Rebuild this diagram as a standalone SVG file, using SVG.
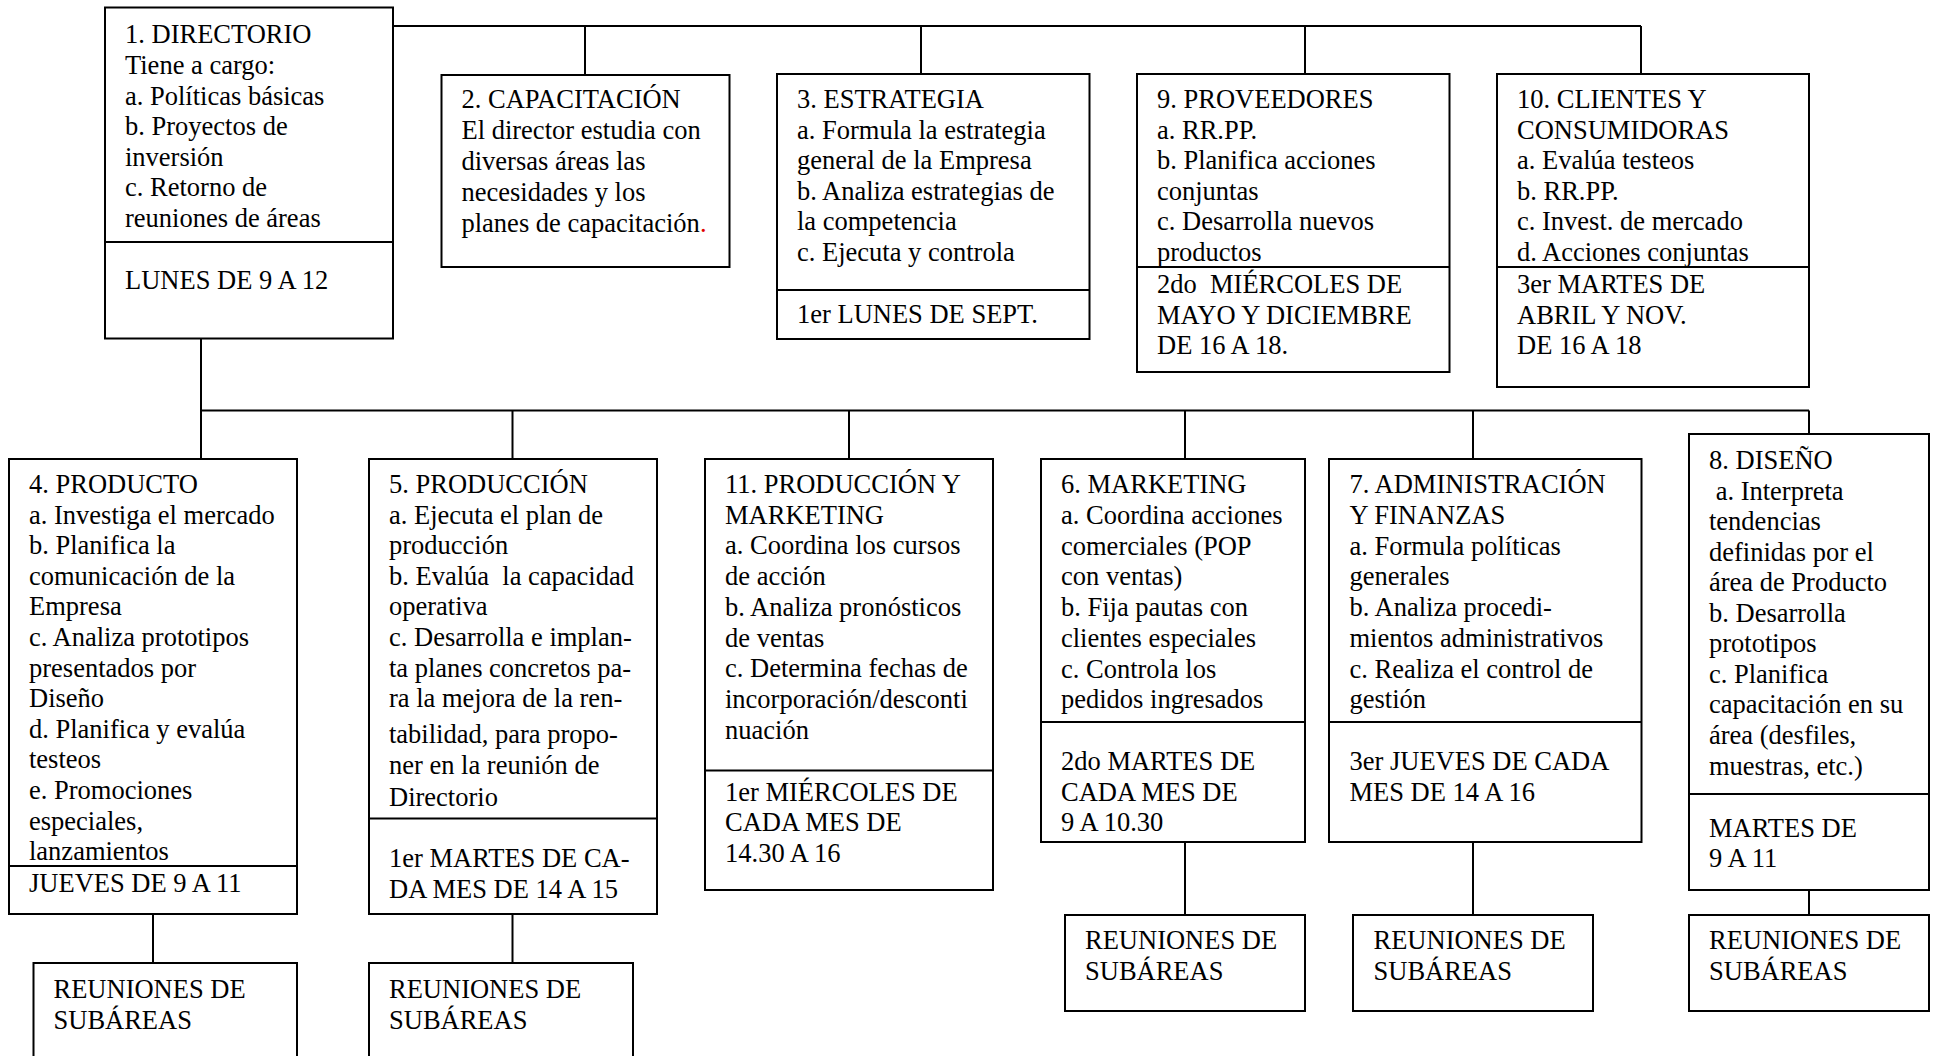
<svg xmlns="http://www.w3.org/2000/svg" width="1939" height="1056" viewBox="0 0 1939 1056">
<style>
  rect.box { fill: #fff; stroke: #000; stroke-width: 2; }
  line.div, #connectors path { stroke: #000; stroke-width: 2; fill: none; }
  text { font-family: "Liberation Serif", "Times New Roman", serif; font-size: 26.5px; fill: #000; white-space: pre; }
</style>
<rect x="0" y="0" width="1939" height="1056" fill="#fff"/>
<g id="connectors">
  <path d="M393,26 H1641"/>
  <path d="M585,26 V75"/>
  <path d="M921,26 V74"/>
  <path d="M1305,26 V74"/>
  <path d="M1641,26 V74"/>
  <path d="M201,338 V459"/>
  <path d="M201,410.5 H1809"/>
  <path d="M512.5,410.5 V459"/>
  <path d="M849,410.5 V459"/>
  <path d="M1185,410.5 V459"/>
  <path d="M1473,410.5 V459"/>
  <path d="M1809,410.5 V434"/>
  <path d="M153,914 V963"/>
  <path d="M512.5,914 V963"/>
  <path d="M1185,842 V915"/>
  <path d="M1473,842 V915"/>
  <path d="M1809,890 V915"/>
</g>
<g id="n1-directorio">
  <rect class="box" x="105" y="7.5" width="288" height="331"/>
  <line class="div" x1="105" y1="242" x2="393" y2="242"/>
  <text x="125">
    <tspan x="125" y="43.3">1. DIRECTORIO</tspan>
    <tspan x="125" y="73.9">Tiene a cargo:</tspan>
    <tspan x="125" y="104.5">a. Políticas básicas</tspan>
    <tspan x="125" y="135.1">b. Proyectos de</tspan>
    <tspan x="125" y="165.7">inversión</tspan>
    <tspan x="125" y="196.3">c. Retorno de</tspan>
    <tspan x="125" y="226.9">reuniones de áreas</tspan>
  </text>
  <text x="125" y="289.3">LUNES DE 9 A 12</text>
</g>
<g id="n2-capacitacion">
  <rect class="box" x="441.5" y="75" width="288" height="192"/>
  <text x="461.5">
    <tspan x="461.5" y="108.3">2. CAPACITACIÓN</tspan>
    <tspan x="461.5" y="139.1">El director estudia con</tspan>
    <tspan x="461.5" y="169.9">diversas áreas las</tspan>
    <tspan x="461.5" y="200.7">necesidades y los</tspan>
    <tspan x="461.5" y="231.5">planes de capacitación<tspan fill="#e00000">.</tspan></tspan>
  </text>
</g>
<g id="n3-estrategia">
  <rect class="box" x="777" y="74" width="312.5" height="265"/>
  <line class="div" x1="777" y1="290" x2="1089.5" y2="290"/>
  <text x="797">
    <tspan x="797" y="108.3">3. ESTRATEGIA</tspan>
    <tspan x="797" y="138.8">a. Formula la estrategia</tspan>
    <tspan x="797" y="169.3">general de la Empresa</tspan>
    <tspan x="797" y="199.8">b. Analiza estrategias de</tspan>
    <tspan x="797" y="230.3">la competencia</tspan>
    <tspan x="797" y="260.8">c. Ejecuta y controla</tspan>
  </text>
  <text x="797" y="323.3">1er LUNES DE SEPT.</text>
</g>
<g id="n9-proveedores">
  <rect class="box" x="1137" y="74" width="312.5" height="298"/>
  <line class="div" x1="1137" y1="267" x2="1449.5" y2="267"/>
  <text x="1157">
    <tspan x="1157" y="108.3">9. PROVEEDORES</tspan>
    <tspan x="1157" y="138.8">a. RR.PP.</tspan>
    <tspan x="1157" y="169.3">b. Planifica acciones</tspan>
    <tspan x="1157" y="199.8">conjuntas</tspan>
    <tspan x="1157" y="230.3">c. Desarrolla nuevos</tspan>
    <tspan x="1157" y="260.8">productos</tspan>
  </text>
  <text x="1157">
    <tspan x="1157" y="293.3">2do  MIÉRCOLES DE</tspan>
    <tspan x="1157" y="323.6">MAYO Y DICIEMBRE</tspan>
    <tspan x="1157" y="354">DE 16 A 18.</tspan>
  </text>
</g>
<g id="n10-clientes">
  <rect class="box" x="1497" y="74" width="312" height="313"/>
  <line class="div" x1="1497" y1="267" x2="1809" y2="267"/>
  <text x="1517">
    <tspan x="1517" y="108.3">10. CLIENTES Y</tspan>
    <tspan x="1517" y="138.8">CONSUMIDORAS</tspan>
    <tspan x="1517" y="169.3">a. Evalúa testeos</tspan>
    <tspan x="1517" y="199.8">b. RR.PP.</tspan>
    <tspan x="1517" y="230.3">c. Invest. de mercado</tspan>
    <tspan x="1517" y="260.8">d. Acciones conjuntas</tspan>
  </text>
  <text x="1517">
    <tspan x="1517" y="293.3">3er MARTES DE</tspan>
    <tspan x="1517" y="323.6">ABRIL Y NOV.</tspan>
    <tspan x="1517" y="354">DE 16 A 18</tspan>
  </text>
</g>
<g id="n4-producto">
  <rect class="box" x="9" y="459" width="288" height="455"/>
  <line class="div" x1="9" y1="866" x2="297" y2="866"/>
  <text x="29">
    <tspan x="29" y="492.9">4. PRODUCTO</tspan>
    <tspan x="29" y="523.5">a. Investiga el mercado</tspan>
    <tspan x="29" y="554.1">b. Planifica la</tspan>
    <tspan x="29" y="584.7">comunicación de la</tspan>
    <tspan x="29" y="615.3">Empresa</tspan>
    <tspan x="29" y="645.9">c. Analiza prototipos</tspan>
    <tspan x="29" y="676.5">presentados por</tspan>
    <tspan x="29" y="707.1">Diseño</tspan>
    <tspan x="29" y="737.7">d. Planifica y evalúa</tspan>
    <tspan x="29" y="768.3">testeos</tspan>
    <tspan x="29" y="798.9">e. Promociones</tspan>
    <tspan x="29" y="829.5">especiales,</tspan>
    <tspan x="29" y="860.1">lanzamientos</tspan>
  </text>
  <text x="29" y="891.6">JUEVES DE 9 A 11</text>
</g>
<g id="n4-subareas">
  <rect class="box" x="33.5" y="963" width="263.5" height="130"/>
  <text x="53.5">
    <tspan x="53.5" y="997.5">REUNIONES DE</tspan>
    <tspan x="53.5" y="1028.5">SUBÁREAS</tspan>
  </text>
</g>
<g id="n5-produccion">
  <rect class="box" x="369" y="459" width="288" height="455"/>
  <line class="div" x1="369" y1="818.5" x2="657" y2="818.5"/>
  <text x="389">
    <tspan x="389" y="492.9">5. PRODUCCIÓN</tspan>
    <tspan x="389" y="523.5">a. Ejecuta el plan de</tspan>
    <tspan x="389" y="554.1">producción</tspan>
    <tspan x="389" y="584.7">b. Evalúa  la capacidad</tspan>
    <tspan x="389" y="615.3">operativa</tspan>
    <tspan x="389" y="645.9">c. Desarrolla e implan-</tspan>
    <tspan x="389" y="676.5">ta planes concretos pa-</tspan>
    <tspan x="389" y="707.1">ra la mejora de la ren-</tspan>
    <tspan x="389" y="743">tabilidad, para propo-</tspan>
    <tspan x="389" y="774.4">ner en la reunión de</tspan>
    <tspan x="389" y="805.9">Directorio</tspan>
  </text>
  <text x="389">
    <tspan x="389" y="866.5">1er MARTES DE CA-</tspan>
    <tspan x="389" y="897.9">DA MES DE 14 A 15</tspan>
  </text>
</g>
<g id="n5-subareas">
  <rect class="box" x="369" y="963" width="264" height="130"/>
  <text x="389">
    <tspan x="389" y="997.5">REUNIONES DE</tspan>
    <tspan x="389" y="1028.5">SUBÁREAS</tspan>
  </text>
</g>
<g id="n11-produccion-marketing">
  <rect class="box" x="705" y="459" width="288" height="431"/>
  <line class="div" x1="705" y1="770.5" x2="993" y2="770.5"/>
  <text x="725">
    <tspan x="725" y="492.9">11. PRODUCCIÓN Y</tspan>
    <tspan x="725" y="523.6">MARKETING</tspan>
    <tspan x="725" y="554.4">a. Coordina los cursos</tspan>
    <tspan x="725" y="585.1">de acción</tspan>
    <tspan x="725" y="615.9">b. Analiza pronósticos</tspan>
    <tspan x="725" y="646.6">de ventas</tspan>
    <tspan x="725" y="677.4">c. Determina fechas de</tspan>
    <tspan x="725" y="708.1">incorporación/desconti</tspan>
    <tspan x="725" y="738.9">nuación</tspan>
  </text>
  <text x="725">
    <tspan x="725" y="800.8">1er MIÉRCOLES DE</tspan>
    <tspan x="725" y="831.3">CADA MES DE</tspan>
    <tspan x="725" y="862.3">14.30 A 16</tspan>
  </text>
</g>
<g id="n6-marketing">
  <rect class="box" x="1041" y="459" width="264" height="383"/>
  <line class="div" x1="1041" y1="722" x2="1305" y2="722"/>
  <text x="1061">
    <tspan x="1061" y="492.9">6. MARKETING</tspan>
    <tspan x="1061" y="523.7">a. Coordina acciones</tspan>
    <tspan x="1061" y="554.5">comerciales (POP</tspan>
    <tspan x="1061" y="585.3">con ventas)</tspan>
    <tspan x="1061" y="616.1">b. Fija pautas con</tspan>
    <tspan x="1061" y="646.9">clientes especiales</tspan>
    <tspan x="1061" y="677.7">c. Controla los</tspan>
    <tspan x="1061" y="708.4">pedidos ingresados</tspan>
  </text>
  <text x="1061">
    <tspan x="1061" y="770.3">2do MARTES DE</tspan>
    <tspan x="1061" y="800.8">CADA MES DE</tspan>
    <tspan x="1061" y="831.2">9 A 10.30</tspan>
  </text>
</g>
<g id="n6-subareas">
  <rect class="box" x="1065" y="915" width="240" height="96"/>
  <text x="1085">
    <tspan x="1085" y="949">REUNIONES DE</tspan>
    <tspan x="1085" y="979.5">SUBÁREAS</tspan>
  </text>
</g>
<g id="n7-administracion">
  <rect class="box" x="1329" y="459" width="312.5" height="383"/>
  <line class="div" x1="1329" y1="722" x2="1641.5" y2="722"/>
  <text x="1349.5">
    <tspan x="1349.5" y="492.9">7. ADMINISTRACIÓN</tspan>
    <tspan x="1349.5" y="523.7">Y FINANZAS</tspan>
    <tspan x="1349.5" y="554.5">a. Formula políticas</tspan>
    <tspan x="1349.5" y="585.3">generales</tspan>
    <tspan x="1349.5" y="616.1">b. Analiza procedi-</tspan>
    <tspan x="1349.5" y="646.9">mientos administrativos</tspan>
    <tspan x="1349.5" y="677.7">c. Realiza el control de</tspan>
    <tspan x="1349.5" y="708.4">gestión</tspan>
  </text>
  <text x="1349.5">
    <tspan x="1349.5" y="770.3">3er JUEVES DE CADA</tspan>
    <tspan x="1349.5" y="800.8">MES DE 14 A 16</tspan>
  </text>
</g>
<g id="n7-subareas">
  <rect class="box" x="1353" y="915" width="240" height="96"/>
  <text x="1373.5">
    <tspan x="1373.5" y="949">REUNIONES DE</tspan>
    <tspan x="1373.5" y="979.5">SUBÁREAS</tspan>
  </text>
</g>
<g id="n8-diseno">
  <rect class="box" x="1689" y="434" width="240" height="456"/>
  <line class="div" x1="1689" y1="794" x2="1929" y2="794"/>
  <text x="1709">
    <tspan x="1709" y="469">8. DISEÑO</tspan>
    <tspan x="1709" y="499.6"> a. Interpreta</tspan>
    <tspan x="1709" y="530.1">tendencias</tspan>
    <tspan x="1709" y="560.7">definidas por el</tspan>
    <tspan x="1709" y="591.2">área de Producto</tspan>
    <tspan x="1709" y="621.8">b. Desarrolla</tspan>
    <tspan x="1709" y="652.3">prototipos</tspan>
    <tspan x="1709" y="682.9">c. Planifica</tspan>
    <tspan x="1709" y="713.4">capacitación en su</tspan>
    <tspan x="1709" y="744">área (desfiles,</tspan>
    <tspan x="1709" y="774.5">muestras, etc.)</tspan>
  </text>
  <text x="1709">
    <tspan x="1709" y="837.2">MARTES DE</tspan>
    <tspan x="1709" y="867.4">9 A 11</tspan>
  </text>
</g>
<g id="n8-subareas">
  <rect class="box" x="1689" y="915" width="240" height="96"/>
  <text x="1709">
    <tspan x="1709" y="949">REUNIONES DE</tspan>
    <tspan x="1709" y="979.5">SUBÁREAS</tspan>
  </text>
</g>
</svg>
